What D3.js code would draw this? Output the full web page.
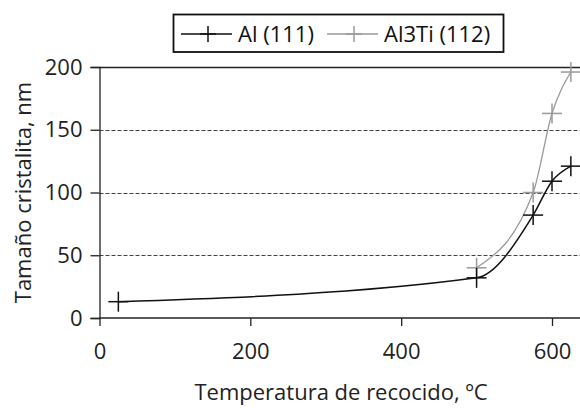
<!DOCTYPE html>
<html><head><meta charset="utf-8">
<script src="https://cdn.jsdelivr.net/npm/d3@7"></script>
<style>html,body{margin:0;padding:0;background:#fff;}svg{display:block;}</style>
</head><body>
<svg id="c" width="580" height="408"></svg>
<script>
const seriesNames = ["Al (111)", "Al3Ti (112)"];
const alTemp = [25, 500, 575, 600, 625];
const alSize = [13, 32, 82, 109, 121];
const tiTemp = [500, 575, 600, 625];
const tiSize = [40, 100, 163, 196];
const xTicks = [0, 200, 400, 600];
const yTicks = [0, 50, 100, 150, 200];
const colors = ["#111111", "#9a9a9a"];

const svg = d3.select("#c");
const W = 580, H = 408;
const font = "'Open Sans', sans-serif";
const fs = "22px";
const x = d3.scaleLinear().domain([0, 600]).range([99.5, 552]);
const y = d3.scaleLinear().domain([0, 200]).range([318, 67]);

// gridlines
svg.append("g").selectAll("line").data(yTicks.filter(d => d > 0)).join("line")
  .attr("x1", x(0)).attr("x2", W).attr("y1", d => Math.round(y(d)) + 0.5).attr("y2", d => Math.round(y(d)) + 0.5)
  .attr("stroke", d => d === 200 ? "#222" : "#444")
  .attr("stroke-width", d => d === 200 ? 1.3 : 1.2)
  .attr("stroke-dasharray", d => d === 200 ? null : "4,2");

// axes
const yAxis = d3.axisLeft(y).tickValues(yTicks).tickSize(9).tickPadding(8);
const xAxis = d3.axisBottom(x).tickValues(xTicks).tickSize(8).tickPadding(17);
const gy = svg.append("g").attr("transform", `translate(${x(0)},0)`).call(yAxis);
const gx = svg.append("g").attr("transform", `translate(0,${y(0)})`).call(xAxis);
gx.select(".domain").attr("d", `M${x(0)},0H${W}`);
[gy, gx].forEach(g => {
  g.select(".domain").attr("stroke", "#222").attr("stroke-width", 1.3);
  g.selectAll(".tick line").attr("stroke", "#222").attr("stroke-width", 1.3);
  g.selectAll(".tick text").attr("fill", "#222").style("font-family", font).style("font-size", fs);
});

// lines
const line = d3.line().x(d => x(d[0])).y(d => y(d[1])).curve(d3.curveMonotoneX);
const alData = alTemp.map((t, i) => [t, alSize[i]]);
const tiData = tiTemp.map((t, i) => [t, tiSize[i]]);
const series = [alData, tiData];

function plus(g, cx, cy, r, color, sw) {
  g.append("line").attr("x1", cx - r).attr("x2", cx + r).attr("y1", cy).attr("y2", cy).attr("stroke", color).attr("stroke-width", sw);
  g.append("line").attr("x1", cx).attr("x2", cx).attr("y1", cy - r).attr("y2", cy + r).attr("stroke", color).attr("stroke-width", sw);
}

[1, 0].forEach(i => {
  svg.append("path").datum(series[i]).attr("d", line).attr("fill", "none")
    .attr("stroke", colors[i]).attr("stroke-width", i === 0 ? 1.5 : 1.3);
  const mg = svg.append("g");
  series[i].forEach(d => plus(mg, x(d[0]), y(d[1]), 10, colors[i], 1.5));
});

// legend
const lg = svg.append("g");
lg.append("rect").attr("x", 173.5).attr("y", 14.5).attr("width", 330).attr("height", 37.5)
  .attr("fill", "#fff").attr("stroke", "#111").attr("stroke-width", 1.8);
const legendX = [181, 327];
seriesNames.forEach((n, i) => {
  const lx = legendX[i], ly = 34;
  lg.append("line").attr("x1", lx).attr("x2", lx + 51).attr("y1", ly).attr("y2", ly).attr("stroke", colors[i]).attr("stroke-width", 1.5);
  plus(lg, lx + 27, ly, 8, colors[i], 1.5);
  lg.append("text").attr("x", lx + 57).attr("y", ly).attr("dy", "0.36em")
    .style("font-family", font).style("font-size", fs).attr("fill", "#111").text(n);
});

// axis titles
svg.append("text").attr("x", 341).attr("y", 400).attr("text-anchor", "middle")
  .style("font-family", font).style("font-size", fs).attr("fill", "#222").text("Temperatura de recocido, ºC");
svg.append("text").attr("transform", `translate(31,${(y(0) + y(200)) / 2}) rotate(-90)`).attr("text-anchor", "middle")
  .style("font-family", font).style("font-size", fs).attr("fill", "#222").text("Tamaño cristalita, nm");
</script>
</body></html>
